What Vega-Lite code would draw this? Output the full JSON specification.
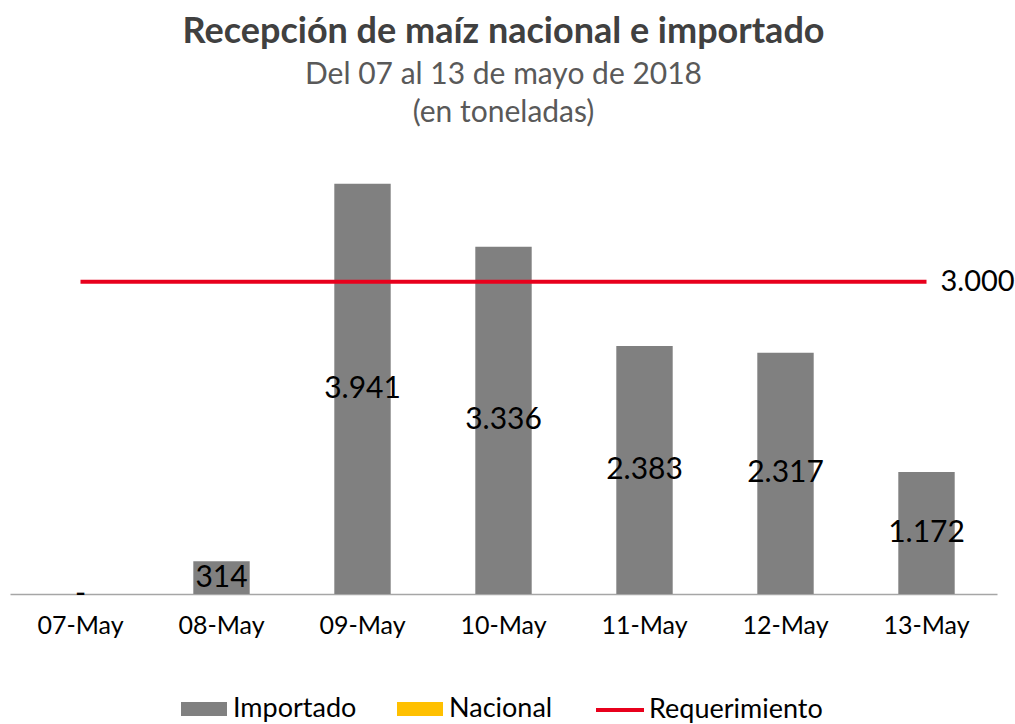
{
  "$schema": "https://vega.github.io/schema/vega-lite/v6.json",
  "width": 987,
  "height": 458,
  "autosize": "none",
  "padding": {"left": 10, "top": 136, "right": 18, "bottom": 130},
  "background": "white",
  "title": {
    "text": "Recepción de maíz nacional e importado",
    "subtitle": ["Del 07 al 13 de mayo de 2018", "(en toneladas)"],
    "anchor": "middle",
    "font": "Lato",
    "fontSize": 36,
    "fontWeight": "bold",
    "color": "#404040",
    "subtitleFont": "Lato",
    "subtitleFontSize": 30,
    "subtitleColor": "#595959",
    "subtitleLineHeight": 38,
    "subtitlePadding": 9,
    "offset": 7
  },
  "datasets": {
    "recepcion": [
      {"fecha": "07-May", "serie": "Importado", "valor": 0},
      {"fecha": "08-May", "serie": "Importado", "valor": 314},
      {"fecha": "09-May", "serie": "Importado", "valor": 3941},
      {"fecha": "10-May", "serie": "Importado", "valor": 3336},
      {"fecha": "11-May", "serie": "Importado", "valor": 2383},
      {"fecha": "12-May", "serie": "Importado", "valor": 2317},
      {"fecha": "13-May", "serie": "Importado", "valor": 1172}
    ],
    "requerimiento": [
      {"fecha": "07-May", "serie": "Requerimiento", "valor": 3000},
      {"fecha": "08-May", "serie": "Requerimiento", "valor": 3000},
      {"fecha": "09-May", "serie": "Requerimiento", "valor": 3000},
      {"fecha": "10-May", "serie": "Requerimiento", "valor": 3000},
      {"fecha": "11-May", "serie": "Requerimiento", "valor": 3000},
      {"fecha": "12-May", "serie": "Requerimiento", "valor": 3000},
      {"fecha": "13-May", "serie": "Requerimiento", "valor": 3000}
    ]
  },
  "encoding": {
    "x": {
      "field": "fecha",
      "type": "nominal",
      "sort": null,
      "scale": {"paddingInner": 0.6, "paddingOuter": 0.3},
      "axis": {
        "title": null,
        "labelAngle": 0,
        "labelFont": "Lato",
        "labelFontSize": 25,
        "labelColor": "#000000",
        "labelPadding": 19,
        "ticks": false,
        "domainColor": "#a6a6a6",
        "domainWidth": 1.5
      }
    }
  },
  "layer": [
    {
      "data": {"name": "recepcion"},
      "mark": {"type": "bar"},
      "encoding": {
        "y": {"field": "valor", "type": "quantitative", "scale": {"domain": [0, 4400]}, "axis": null},
        "fill": {
          "field": "serie",
          "type": "nominal",
          "scale": {"domain": ["Importado", "Nacional"], "range": ["#808080", "#FFC000"]},
          "legend": {
            "title": null,
            "orient": "none",
            "legendX": 171,
            "legendY": 550,
            "direction": "horizontal",
            "symbolType": "M-1,-0.3H1V0.3H-1Z",
            "symbolSize": 2116,
            "symbolStrokeWidth": 0,
            "labelFont": "Lato",
            "labelFontSize": 27,
            "labelColor": "#000000",
            "labelOffset": 6,
            "labelLimit": 400,
            "columnPadding": 40
          }
        }
      }
    },
    {
      "data": {"name": "recepcion"},
      "mark": {"type": "text", "font": "Lato", "fontSize": 30, "color": "#000000", "baseline": "middle"},
      "encoding": {
        "y": {"field": "valor", "type": "quantitative", "scale": {"domain": [0, 8800]}, "axis": null},
        "text": {
          "condition": {"test": "datum.valor === 0", "value": "-"},
          "field": "valor",
          "type": "quantitative",
          "format": ","
        }
      }
    },
    {
      "data": {"name": "requerimiento"},
      "mark": {"type": "line", "strokeWidth": 4},
      "encoding": {
        "y": {"field": "valor", "type": "quantitative", "scale": {"domain": [0, 4400]}, "axis": null},
        "stroke": {
          "field": "serie",
          "type": "nominal",
          "scale": {"domain": ["Requerimiento"], "range": ["#e8001c"]},
          "legend": {
            "title": null,
            "orient": "none",
            "legendX": 586,
            "legendY": 550,
            "direction": "horizontal",
            "symbolType": "M-1,-0.08H1V0.08H-1Z",
            "symbolSize": 2304,
            "symbolStrokeWidth": 0,
            "symbolFillColor": "#e8001c",
            "labelFont": "Lato",
            "labelFontSize": 27,
            "labelColor": "#000000",
            "labelOffset": 5,
            "labelLimit": 400
          }
        }
      }
    },
    {
      "data": {"name": "requerimiento"},
      "transform": [{"filter": "datum.fecha === '13-May'"}],
      "mark": {"type": "text", "font": "Lato", "fontSize": 29, "color": "#000000", "align": "left", "baseline": "middle", "dx": 14},
      "encoding": {
        "y": {"field": "valor", "type": "quantitative", "scale": {"domain": [0, 4400]}, "axis": null},
        "text": {"field": "valor", "type": "quantitative", "format": ","}
      }
    }
  ],
  "resolve": {"scale": {"y": "independent"}},
  "config": {
    "view": {"stroke": null},
    "locale": {
      "number": {"decimal": ",", "thousands": ".", "grouping": [3], "currency": ["$", ""]}
    }
  }
}
